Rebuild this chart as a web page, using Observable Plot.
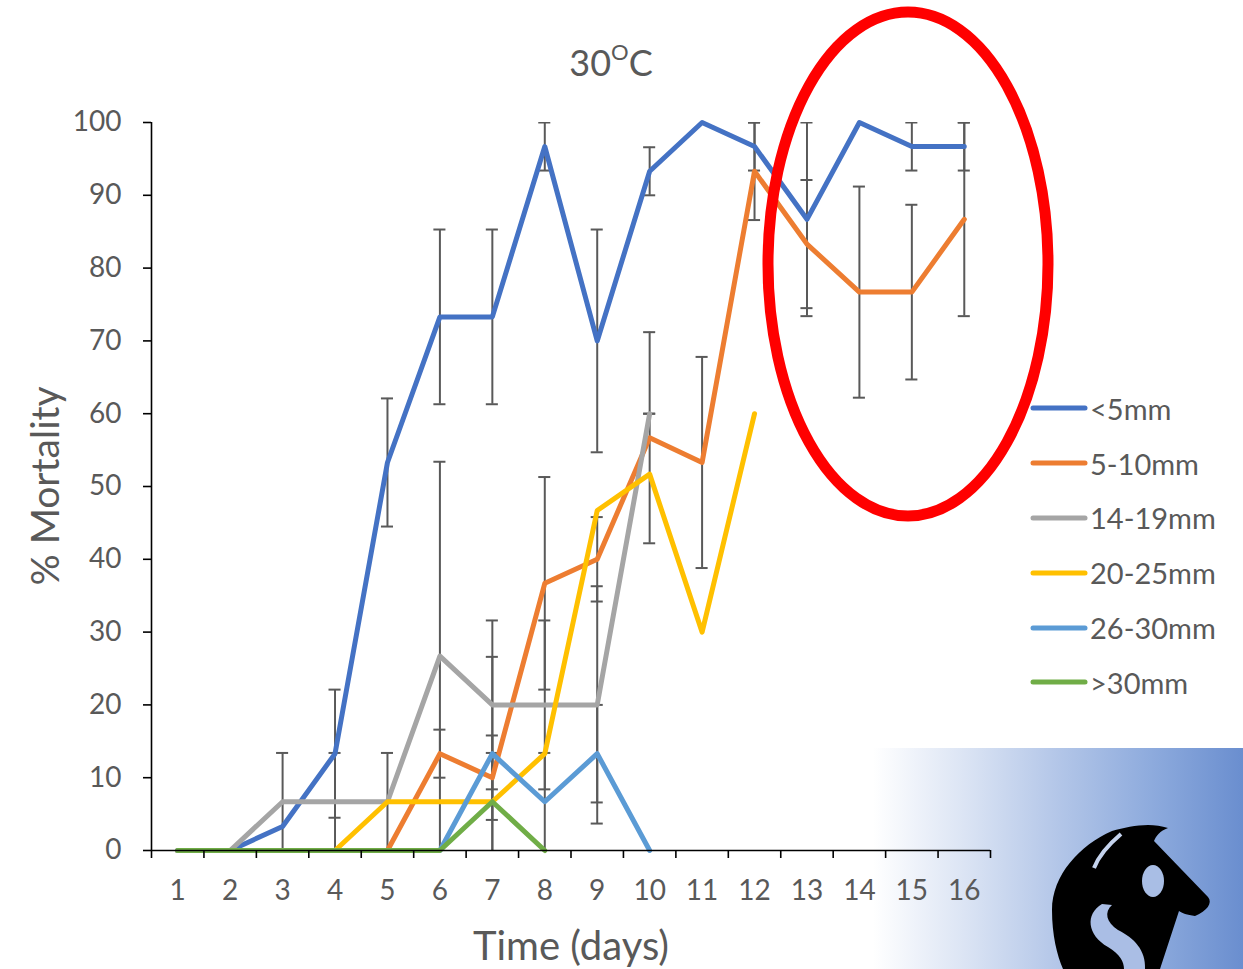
<!DOCTYPE html>
<html>
<head>
<meta charset="utf-8">
<script src="https://cdn.jsdelivr.net/npm/d3@7"></script>
<script src="https://cdn.jsdelivr.net/npm/@observablehq/plot@0.6"></script>
<style>
  body { margin: 0; background: #fff; font-family: Lato, "Open Sans", sans-serif; }
  #wrap { position: relative; width: 1243px; height: 969px; overflow: hidden; background: #fff; }
  #grad { position: absolute; left: 873px; top: 748px; width: 370px; height: 221px;
          background: linear-gradient(to right, #ffffff 0%, #dbe4f4 25%, #b3c6e8 50%, #8eabdd 75%, #6a8ecf 100%); }
  #chart { position: absolute; left: 0; top: 0; }
  #chart svg { background: transparent; }
  #title { position: absolute; left: 0; width: 1222px; top: 40px; text-align: center; font-size: 36px; color: #595959; }
  #title sup { font-size: 22px; position: relative; top: -3px; }
  #ylabel { position: absolute; left: 44px; top: 486px; transform: translate(-50%, -50%) rotate(-90deg);
            font-size: 39px; color: #595959; white-space: nowrap; }
  #xlabel { position: absolute; left: 571px; top: 945px; transform: translate(-50%, -50%);
            font-size: 40px; color: #595959; white-space: nowrap; }
  #legend { position: absolute; left: 1030px; top: 381px; }
  .lrow { display: flex; align-items: center; height: 54.8px; }
  .lrow span { font-size: 29px; color: #595959; margin-left: 2px; }
  #overlay { position: absolute; left: 0; top: 0; pointer-events: none; }
</style>
</head>
<body>
<div id="wrap">
  <div id="grad"></div>
  <div id="chart"></div>
  <div id="title">30<sup>O</sup>C</div>
  <div id="ylabel">% Mortality</div>
  <div id="xlabel">Time (days)</div>
  <div id="legend"></div>
  <svg id="overlay" width="1243" height="969">
    <ellipse cx="908" cy="264" rx="140" ry="252" fill="none" stroke="#ff0000" stroke-width="11"/>
    <path d="M1112,831 C1130,826 1150,822 1168,828 C1160,831 1156,836 1154,841 L1208,897 C1213,903 1207,911 1195,916 C1187,915 1182,913 1179,911 L1160,969 L1063,969 C1057,955 1052,935 1052,910 C1052,875 1080,845 1112,831 Z" fill="#000"/>
    <ellipse cx="1153" cy="881" rx="11" ry="16" fill="#a9bee5"/>
    <path d="M1102,904 C1085,914 1087,935 1108,947 C1120,954 1124,962 1124,969 L1145,969 C1146,950 1134,938 1118,930 C1106,922 1104,912 1112,905 Z" fill="#aabee5"/>
    <path d="M1121,834 C1108,845 1099,855 1094,868" fill="none" stroke="#c5d3ee" stroke-width="4"/>
  </svg>
</div>
<script>
// ---- data ----
const days = d3.range(1, 17);
const seriesNames = ["<5mm", "5-10mm", "14-19mm", "20-25mm", "26-30mm", ">30mm"];
const seriesColors = ["#4472C4", "#ED7D31", "#A5A5A5", "#FFC000", "#5B9BD5", "#70AD47"];

const valLt5    = [0, 0, 3.3, 13.3, 53.3, 73.3, 73.3, 96.7, 70, 93.3, 100, 96.7, 86.7, 100, 96.7, 96.7];
const val5to10  = [0, 0, 0, 0, 0, 13.3, 10, 36.7, 40, 56.7, 53.3, 93.3, 83.3, 76.7, 76.7, 86.7];
const val14to19 = [0, 0, 6.7, 6.7, 6.7, 26.7, 20, 20, 20, 60];
const val20to25 = [0, 0, 0, 0, 6.7, 6.7, 6.7, 13.3, 46.7, 51.7, 30, 60];
const val26to30 = [0, 0, 0, 0, 0, 0, 13.3, 6.7, 13.3, 0];
const valGt30   = [0, 0, 0, 0, 0, 0, 6.7, 0];

const errLt5    = [null, null, null, 8.8, 8.8, 12, 12, 3.3, 15.3, 3.3, null, 3.3, 13.3, null, 3.3, 3.3];
const err5to10  = [null, null, null, null, null, 3.3, 5.8, 14.6, 5.8, 14.5, 14.5, 6.7, 8.8, 14.5, 12, 13.3];
const err14to19 = [null, null, 6.7, 6.7, 6.7, 26.7, 11.6, 11.6, 16.3, 0];
const err20to25 = [null, null, null, null, null, null, null, null, null, null, null, null];
const err26to30 = [null, null, null, null, null, null, 13.3, 6.7, 6.7, null];
const errGt30   = [null, null, null, null, null, null, 6.7, null];

const yTicks = d3.range(0, 101, 10);

// ---- build tables ----
const allVals = [valLt5, val5to10, val14to19, val20to25, val26to30, valGt30];
const allErrs = [errLt5, err5to10, err14to19, err20to25, err26to30, errGt30];
const rows = [];
allVals.forEach((vals, si) => vals.forEach((v, i) => rows.push({
  series: seriesNames[si], day: days[i], value: v, err: allErrs[si][i]
})));
const errRows = rows.filter(d => d.err != null);
const capHalf = 0.115;

const chart = Plot.plot({
  width: 1243,
  height: 969,
  marginLeft: 151,
  marginRight: 253,
  marginTop: 122,
  marginBottom: 119,
  style: { background: "transparent", fontFamily: "Lato, 'Open Sans', sans-serif", overflow: "visible" },
  x: { domain: [0.5, 16.5] },
  y: { domain: [0, 100] },
  color: { domain: seriesNames, range: seriesColors },
  marks: [
    // error bars
    Plot.ruleX(errRows, { x: "day", y1: d => d.value - d.err, y2: d => d.value + d.err,
      stroke: "#595959", strokeWidth: 2, clip: true }),
    Plot.ruleY(errRows, { y: d => d.value + d.err, x1: d => d.day - capHalf, x2: d => d.day + capHalf,
      stroke: "#595959", strokeWidth: 2, clip: true }),
    Plot.ruleY(errRows.filter(d => d.value - d.err > 0.5), { y: d => d.value - d.err,
      x1: d => d.day - capHalf, x2: d => d.day + capHalf, stroke: "#595959", strokeWidth: 2 }),
    // lines
    Plot.line(rows, { x: "day", y: "value", z: "series", stroke: "series", strokeWidth: 5,
      strokeLinecap: "round", strokeLinejoin: "round" }),
    // axis lines
    Plot.ruleY([0], { stroke: "#000", strokeWidth: 1.6 }),
    Plot.ruleX([0.5], { stroke: "#000", strokeWidth: 1.6 }),
    // axes
    Plot.axisY({ ticks: yTicks, tickSize: 8, tickPadding: 22, fontSize: 28, stroke: "#000",
      strokeWidth: 1.6, fill: "#595959", label: null }),
    Plot.axisX({ ticks: d3.range(0.5, 16.6, 1), tickSize: 8, tickFormat: () => "", stroke: "#000",
      strokeWidth: 1.6, label: null }),
    Plot.axisX({ ticks: days, tickSize: 0, tickPadding: 30, fontSize: 28, fill: "#595959",
      tickFormat: d => String(d), label: null })
  ]
});
document.getElementById("chart").appendChild(chart);

// ---- legend ----
const legend = document.getElementById("legend");
seriesNames.forEach((name, i) => {
  const row = document.createElement("div");
  row.className = "lrow";
  row.innerHTML = `<svg width="58" height="10"><line x1="3" y1="5" x2="55" y2="5" stroke="${seriesColors[i]}" stroke-width="5" stroke-linecap="round"/></svg>`;
  const sp = document.createElement("span");
  sp.textContent = name;
  row.appendChild(sp);
  legend.appendChild(row);
});
</script>
</body>
</html>
